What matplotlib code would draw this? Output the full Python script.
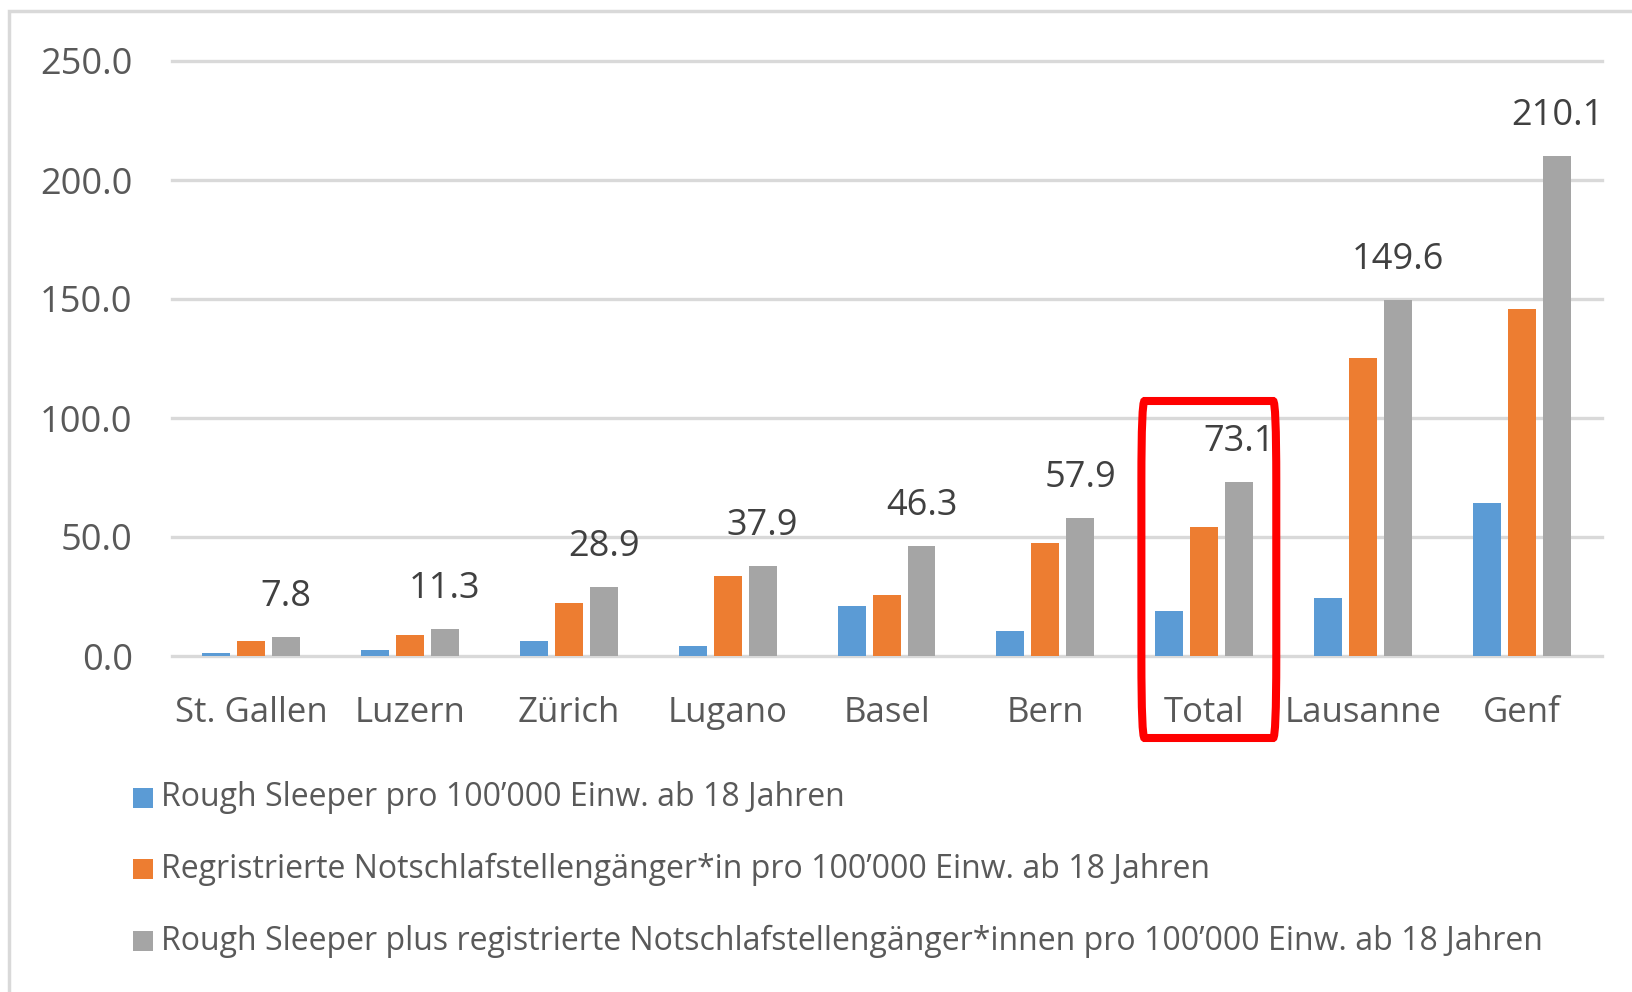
import matplotlib
matplotlib.use("Agg")
import matplotlib.pyplot as plt
from matplotlib import font_manager
from matplotlib.patches import Rectangle, FancyBboxPatch
import matplotlib.transforms as mtransforms
import numpy as np

categories = ["St. Gallen", "Luzern", "Zürich", "Lugano", "Basel", "Bern", "Total", "Lausanne", "Genf"]
rough_sleeper = [1.4, 2.5, 6.5, 4.2, 20.8, 10.4, 19.0, 24.5, 64.1]
notschlaf = [6.4, 8.8, 22.4, 33.7, 25.5, 47.5, 54.1, 125.1, 146.0]
combined = [7.8, 11.3, 28.9, 37.9, 46.3, 57.9, 73.1, 149.6, 210.1]
series_labels = [
    "Rough Sleeper pro 100’000 Einw. ab 18 Jahren",
    "Regristrierte Notschlafstellengänger*in pro 100’000 Einw. ab 18 Jahren",
    "Rough Sleeper plus registrierte Notschlafstellengänger*innen pro 100’000 Einw. ab 18 Jahren",
]
y_ticks = [0, 50, 100, 150, 200, 250]
highlight = "Total"

colors = ["#5B9BD5", "#ED7D31", "#A5A5A5"]
text_color = "#595959"
grid_color = "#D9D9D9"

avail = {f.name for f in font_manager.fontManager.ttflist}
main_font = "Open Sans" if "Open Sans" in avail else "DejaVu Sans"

W, H = 1632, 992
fig = plt.figure(figsize=(W / 100, H / 100), dpi=100)
fig.patch.set_facecolor("white")

# outer chart frame (cropped at right and bottom)
fig.patches.append(Rectangle((8.5 / W, -0.1), 1.2, 1 - 10.5 / H + 0.1, transform=fig.transFigure,
                             fill=False, edgecolor=grid_color, linewidth=2.5))

left_px, right_px, top_px, bot_px = 171.6, 1601.5, 61, 656
ax = fig.add_axes([left_px / W, 1 - bot_px / H, (right_px - left_px) / W, (bot_px - top_px) / H])
ax.set_xlim(-0.5, len(categories) - 0.5)
ax.set_ylim(0, 250)
for s in ax.spines.values():
    s.set_visible(False)

for t in y_ticks:
    ax.axhline(t, color=grid_color, linewidth=2.4, zorder=0, clip_on=False)

x = np.arange(len(categories))
width = 0.176
step = 0.22
conts = []
for i, (vals, c) in enumerate(zip([rough_sleeper, notschlaf, combined], colors)):
    bc = ax.bar(x + (i - 1) * step, vals, width, color=c, zorder=2, label=series_labels[i])
    conts.append(bc)

ax.bar_label(conts[2], labels=[f"{v:.1f}" for v in combined], padding=16,
             fontsize=26, color="#404040", family=main_font)

ax.set_yticks(y_ticks)
ax.set_yticklabels([f"{v:.1f}" for v in y_ticks], fontsize=26, color=text_color, family=main_font)
ax.set_xticks(x)
ax.set_xticklabels(categories, fontsize=25, color=text_color, family=main_font)
ax.tick_params(axis="y", length=0, pad=28)
ax.tick_params(axis="x", length=0, pad=28.5)

# highlight box around "Total"
hi = categories.index(highlight)
box_trans = mtransforms.blended_transform_factory(ax.transData, fig.transFigure)
x0 = hi - 0.396
x1 = hi + 0.453
ax.add_patch(FancyBboxPatch((x0, 1 - 738 / H), x1 - x0, (738 - 401) / H,
                            boxstyle="round,pad=0,rounding_size=0.02",
                            transform=box_trans, fill=False, edgecolor="#FF0000",
                            linewidth=5.8, clip_on=False, zorder=5, mutation_aspect=4))

# legend
leg_y = [798, 869, 941]
for lab, c, yy in zip(series_labels, colors, leg_y):
    fig.patches.append(Rectangle((133 / W, 1 - (yy + 10) / H), 20 / W, 20 / H,
                                 transform=fig.transFigure, facecolor=c, edgecolor="none"))
    fig.text(161 / W, 1 - yy / H, lab, fontsize=23, color=text_color, family=main_font,
             va="center", ha="left")

fig.savefig("out.png", dpi=100)
